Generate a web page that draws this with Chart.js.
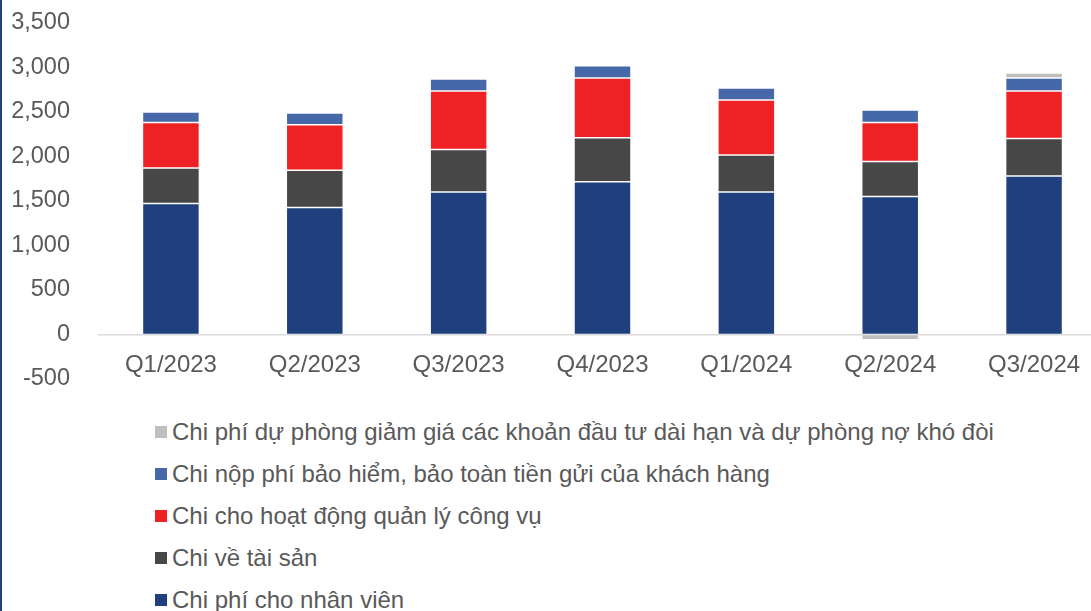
<!DOCTYPE html>
<html>
<head>
<meta charset="utf-8">
<script src="https://cdn.jsdelivr.net/npm/chart.js@4"></script>
<style>
  html, body { margin: 0; padding: 0; background: #fff; overflow: hidden; }
  body { width: 1091px; height: 611px; position: relative; font-family: "Liberation Sans", Arial, sans-serif; }
  #edge { position: absolute; left: 0; top: 0; width: 2px; height: 611px; background: #1f3f7d; }
  #wrap { position: absolute; left: 0; top: 0; width: 1106px; height: 400px; }
  #legend { position: absolute; left: 155px; top: 0; margin: 0; padding: 0; list-style: none; }
  #legend li { position: absolute; left: 0; white-space: nowrap; font-size: 24px; color: #595959; line-height: 28px; }
  #legend span.box { display: inline-block; width: 12px; height: 12px; margin-right: 5px; vertical-align: 2px; }
</style>
</head>
<body>
<div id="edge"></div>
<div id="wrap"><canvas id="costChart"></canvas></div>
<ul id="legend"></ul>
<script>
  // Quarters and cost series (billion VND)
  const quarters = ['Q1/2023', 'Q2/2023', 'Q3/2023', 'Q4/2023', 'Q1/2024', 'Q2/2024', 'Q3/2024'];
  const staffCost = [1471, 1426, 1602, 1715, 1602, 1550, 1782];
  const assetCost = [400, 419, 476, 497, 416, 393, 419];
  const adminCost = [510, 513, 659, 671, 618, 438, 536];
  const insuranceCost = [119, 131, 134, 138, 134, 142, 146];
  const provisionCost = [0, 0, 0, 0, 0, -60, 56];
  const yTicks = [-500, 0, 500, 1000, 1500, 2000, 2500, 3000, 3500];

  const seriesNames = [
    'Chi phí cho nhân viên',
    'Chi về tài sản',
    'Chi cho hoạt động quản lý công vụ',
    'Chi nộp phí bảo hiểm, bảo toàn tiền gửi của khách hàng',
    'Chi phí dự phòng giảm giá các khoản đầu tư dài hạn và dự phòng nợ khó đòi'
  ];
  const seriesColors = ['#1f407d', '#474747', '#ee2224', '#4768a8', '#bfbfbf'];
  const seriesValues = [staffCost, assetCost, adminCost, insuranceCost, provisionCost];

  const datasets = seriesValues.map((vals, i) => ({
    label: seriesNames[i],
    data: vals,
    backgroundColor: seriesColors[i],
    borderColor: 'rgba(255,255,255,0.45)',
    borderWidth: 0.75,
    borderSkipped: false,
    barPercentage: 0.396,
    categoryPercentage: 1
  }));

  const ctx = document.getElementById('costChart').getContext('2d');
  const chart = new Chart(ctx, {
    type: 'bar',
    data: { labels: quarters, datasets: datasets },
    options: {
      responsive: true,
      maintainAspectRatio: false,
      animation: false,
      layout: { padding: { top: 23, bottom: 21, left: 0, right: 0 } },
      plugins: { legend: { display: false }, tooltip: { enabled: false } },
      scales: {
        x: {
          stacked: true,
          position: { y: 0 },
          grid: { display: false },
          border: { display: true, color: '#d9d9d9', width: 1.5 },
          ticks: { color: '#595959', font: { family: 'Liberation Sans', size: 24 }, padding: 8, maxRotation: 0 },
          afterFit: s => { s.height = 0; s.paddingLeft = 0; s.paddingRight = 0; }
        },
        y: {
          stacked: true,
          min: -500,
          max: 3500,
          afterBuildTicks: s => { s.ticks = yTicks.map(v => ({ value: v })); },
          grid: { display: false },
          border: { display: false },
          ticks: {
            color: '#595959',
            font: { family: 'Liberation Sans', size: 23.5 },
            padding: 21,
            callback: v => v.toLocaleString('en-US')
          },
          afterFit: s => { s.width = 99; s.paddingTop = 0; s.paddingBottom = 0; }
        }
      }
    }
  });

  // Legend, listed top-down in reverse series order
  const legend = document.getElementById('legend');
  const ds = chart.data.datasets.slice().reverse();
  ds.forEach((d, i) => {
    const li = document.createElement('li');
    li.style.top = (418 + i * 42) + 'px';
    li.innerHTML = '<span class="box" style="background:' + d.backgroundColor + '"></span>' + d.label;
    legend.appendChild(li);
  });
</script>
</body>
</html>
